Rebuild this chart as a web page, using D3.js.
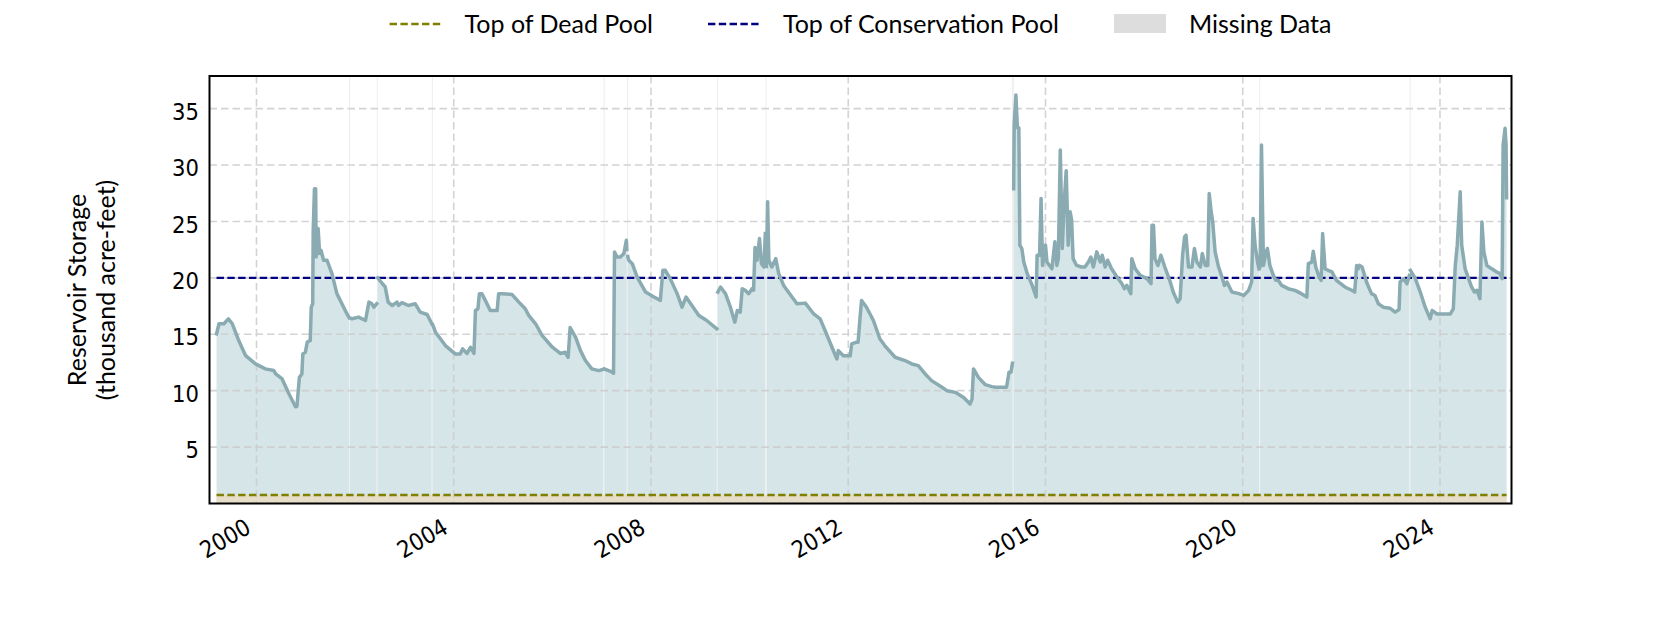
<!DOCTYPE html>
<html><head><meta charset="utf-8">
<script src="https://cdn.jsdelivr.net/npm/d3@7"></script>
<style>body{margin:0;background:#fff}svg{display:block}</style>
</head><body>
<svg id="chart" width="1680" height="630"></svg>
<script>
// ---------------- data ----------------
const years = [
1999.19,1999.24,1999.34,1999.43,1999.51,1999.64,1999.78,1999.98,2000.18,2000.35,2000.39,2000.52,2000.66,2000.79,2000.82,2000.87,2000.92,2000.94,2000.99,2001.03,2001.09,2001.11,2001.14,2001.15,2001.175,2001.20,2001.21,2001.25,2001.28,2001.31,2001.36,2001.43,2001.53,2001.63,2001.80,2001.875,
2001.885,
2001.895,2001.94,2002.07,2002.21,2002.28,2002.34,2002.38,2002.437,
2002.447,
2002.457,2002.55,2002.61,2002.67,2002.75,2002.85,2002.88,2002.95,2003.08,2003.22,2003.32,2003.46,2003.553,
2003.563,
2003.573,2003.63,2003.83,2004.03,2004.13,2004.18,2004.27,2004.34,2004.41,2004.44,2004.49,2004.52,2004.57,2004.64,2004.74,2004.88,2004.91,2004.98,2005.18,2005.32,2005.45,2005.52,2005.66,2005.79,2006.0,2006.16,2006.26,2006.32,2006.36,2006.47,2006.57,2006.67,2006.80,2006.94,2007.035,
2007.045,
2007.055,2007.18,2007.24,2007.26,2007.31,2007.38,2007.45,2007.50,2007.51,
2007.52,
2007.53,2007.55,2007.62,2007.72,2007.89,2008.06,2008.19,2008.24,2008.29,2008.39,2008.53,2008.63,2008.71,2008.83,2008.97,2009.13,2009.335,
2009.345,
2009.355,2009.41,2009.51,2009.61,2009.70,2009.75,2009.81,2009.85,2009.91,2009.98,2010.05,2010.08,2010.11,2010.15,2010.20,2010.24,2010.29,2010.318,
2010.33,
2010.342,2010.365,2010.39,2010.45,2010.53,2010.59,2010.69,2010.86,2010.96,2011.13,2011.30,2011.43,2011.53,2011.67,2011.77,2011.80,2011.90,2012.04,2012.07,2012.17,2012.20,2012.24,2012.27,2012.37,2012.51,2012.64,2012.74,2012.95,2013.15,2013.29,2013.42,2013.56,2013.69,2013.90,2014.0,2014.17,2014.34,2014.47,2014.51,2014.54,2014.64,2014.78,2014.91,2014.99,2015.21,2015.26,2015.30,2015.33,
2015.34,
2015.355,2015.365,2015.40,2015.43,2015.46,2015.48,2015.52,2015.56,2015.63,2015.73,2015.81,2015.83,2015.88,2015.91,2015.94,2016.0,2016.03,2016.13,2016.19,2016.23,2016.26,2016.30,2016.34,2016.38,2016.42,2016.46,2016.50,2016.53,2016.56,2016.63,2016.73,2016.80,2016.87,2016.92,2016.97,2017.04,2017.11,2017.15,2017.21,2017.26,2017.34,2017.45,2017.55,2017.60,2017.65,2017.73,2017.75,2017.82,2017.92,2018.06,2018.14,2018.16,2018.19,2018.22,2018.28,2018.34,2018.42,2018.53,2018.59,2018.68,2018.73,2018.78,2018.82,2018.85,2018.90,2018.97,2019.02,2019.07,2019.14,2019.18,2019.24,2019.29,2019.32,2019.36,2019.39,2019.44,2019.51,2019.59,2019.63,2019.68,2019.78,2019.92,2020.02,2020.12,2020.18,2020.21,2020.25,2020.30,2020.33,
2020.34,
2020.352,2020.38,2020.42,2020.46,2020.50,2020.55,2020.62,2020.67,2020.72,2020.79,2020.92,2021.06,2021.19,2021.30,2021.33,2021.40,2021.43,2021.48,2021.55,2021.59,2021.62,2021.67,2021.73,2021.81,2021.90,2022.07,2022.21,2022.27,2022.31,2022.34,2022.37,2022.42,2022.51,2022.61,2022.68,2022.75,2022.85,2022.99,2023.09,2023.17,2023.19,2023.26,2023.33,2023.38,
2023.39,
2023.40,2023.50,2023.60,2023.70,2023.80,2023.84,2023.94,2024.11,2024.21,2024.27,2024.31,2024.35,2024.41,2024.44,2024.51,2024.58,2024.64,2024.70,2024.75,2024.81,2024.85,2024.89,2024.95,2025.05,2025.15,2025.22,2025.26,2025.28,2025.32,2025.34,2025.35
];
const storage = [
15.04,15.93,15.93,16.37,15.93,14.44,13.1,12.37,11.93,11.78,11.48,11.04,9.7,8.58,8.6,11.18,11.48,13.26,13.4,14.3,14.44,17.4,17.7,24.2,27.9,27.9,21.85,24.37,22.15,22.44,21.56,21.56,20.37,18.6,17.1,16.5,
null,
16.45,16.37,16.52,16.22,17.85,17.7,17.4,17.7,
null,
20.0,19.5,19.2,17.85,17.55,17.85,17.55,17.8,17.55,17.7,16.96,16.75,15.95,
null,
15.85,15.18,14.0,13.26,13.26,13.7,13.3,13.85,13.3,17.1,17.25,18.6,18.6,18.0,17.1,17.1,18.6,18.6,18.53,17.85,17.26,16.67,15.93,14.9,13.85,13.3,13.4,12.96,15.6,14.74,13.55,12.67,11.93,11.78,11.9,
null,
11.93,11.72,11.55,22.3,21.85,21.85,22.15,23.33,22.5,
null,
21.9,21.56,21.26,20.07,18.74,18.3,18.0,20.67,20.67,19.93,18.6,17.4,18.3,17.55,16.67,16.22,15.48,
null,
18.74,19.19,18.6,17.4,16.07,17.1,16.96,19.04,18.9,18.6,19.04,18.9,22.7,21.56,23.48,21.26,20.96,23.93,
null,
21.0,26.74,21.56,20.96,21.7,20.37,19.33,18.3,17.7,17.76,16.8,16.37,15.33,13.85,12.81,13.55,13.1,13.1,14.15,14.3,14.3,16.52,18.0,17.4,16.22,14.6,14.0,12.96,12.67,12.37,12.22,11.48,10.89,10.3,10.0,9.85,9.4,8.82,9.26,11.93,11.18,10.53,10.36,10.3,10.3,11.63,11.63,12.44,
null,
27.9,33.55,36.2,33.3,33.3,22.9,22.6,21.4,20.37,19.33,18.3,22.0,22.0,27.04,21.1,22.9,21.4,20.8,23.2,21.1,21.7,31.33,22.6,26.7,29.5,22.9,25.85,25.1,21.7,21.1,20.96,20.96,21.4,21.85,20.96,22.3,21.4,22.0,20.96,21.56,20.8,20.07,19.48,19.04,19.33,18.6,21.7,20.8,20.22,19.93,19.48,24.67,24.67,21.7,21.1,22.0,20.96,19.63,18.74,17.85,18.15,22.0,23.63,23.78,20.96,20.96,22.6,21.4,20.96,22.15,21.1,21.1,27.48,25.85,25.0,22.3,20.96,19.93,19.33,19.63,18.74,18.6,18.44,18.89,19.63,25.26,22.9,21.4,20.8,
null,
21.0,31.78,21.1,22.0,22.6,21.1,20.22,19.78,19.78,19.33,19.04,18.89,18.6,18.3,21.26,21.4,22.35,20.96,20.07,19.78,23.93,20.8,20.67,20.52,19.78,19.19,18.9,18.74,21.1,20.8,21.1,20.96,19.63,18.6,18.44,17.7,17.4,17.3,16.96,17.2,19.63,19.93,19.48,20.22,
null,
20.67,19.93,18.74,17.4,16.37,17.1,16.8,16.8,16.8,17.26,21.1,22.9,27.63,22.9,20.8,19.93,19.19,18.74,18.9,18.15,24.96,22.3,21.1,20.8,20.52,20.37,19.93,31.78,33.26,31.78,27.1
];
const missingFrom = [2001.879,2002.441,2003.557,2007.039,2007.514,2009.339,2010.323,2015.322,2020.334,2023.384];
const missingTo   = [2001.891,2002.453,2003.569,2007.051,2007.526,2009.351,2010.337,2015.358,2020.346,2023.396];
const deadPool = 0.76;
const conservationPool = 20.0;
const yTicks = [5,10,15,20,25,30,35];
const xTicks = [2000,2004,2008,2012,2016,2020,2024];
const xTickLabels = ["2000","2004","2008","2012","2016","2020","2024"];
const legendLabels = ["Top of Dead Pool","Top of Conservation Pool","Missing Data"];
const yLabelLines = ["Reservoir Storage","(thousand acre-feet)"];

// ---------------- layout / style ----------------
const W = 1680, H = 630;
const P = {left:209.5, right:1511.5, top:76, bottom:503.5};
const C = {line:"#8aabb1", fill:"#d6e5e7", dead:"#808000", cons:"#000080", deadFill:"#e6dfc9",
           missing:"#dddddd", grid:"#cccccc"};
const TEXT_FONT = "Lato, 'Open Sans', sans-serif";
const TICK_FONT = "'Liberation Sans Narrow', 'DejaVu Sans Condensed', Lato, sans-serif";

const svg = d3.select("#chart");
svg.append("rect").attr("width",W).attr("height",H).attr("fill","#fff");

const x = d3.scaleLinear().domain([1999.047, 2025.45]).range([P.left, P.right]);
const y = d3.scaleLinear().domain([0, 37.89]).range([P.bottom, P.top]);

const data = years.map((t,i)=>({t, v: storage[i]}));
const valid = data.filter(d=>d.v!=null);
const t0 = valid[0].t, t1 = valid[valid.length-1].t;

const plot = svg.append("g");
plot.append("clipPath").attr("id","clip").append("rect")
  .attr("x",P.left).attr("y",P.top).attr("width",P.right-P.left).attr("height",P.bottom-P.top);
const g = plot.append("g").attr("clip-path","url(#clip)");

// missing data bands
g.selectAll("rect.miss").data(missingFrom.map((a,i)=>[a,missingTo[i]])).join("rect")
  .attr("class","miss")
  .attr("x",d=>x(d[0])).attr("width",d=>Math.max(1,x(d[1])-x(d[0])))
  .attr("y",P.top).attr("height",P.bottom-P.top)
  .attr("fill",C.missing).attr("opacity",0.5);

// storage area
const area = d3.area().defined(d=>d.v!=null).x(d=>x(d.t)).y0(y(0)).y1(d=>y(d.v));
g.append("path").datum(data).attr("d",area).attr("fill",C.fill);

// dead pool fill
g.append("path").datum([t0,t1])
  .attr("d", d3.area().x(d=>x(d)).y0(y(0)).y1(y(deadPool)))
  .attr("fill",C.deadFill);

// grid
const grid = g.append("g").attr("stroke",C.grid).attr("stroke-width",1.6)
  .attr("stroke-dasharray","7.5,4").attr("opacity",0.85);
grid.selectAll("line.h").data(yTicks).join("line").attr("class","h")
  .attr("x1",P.left).attr("x2",P.right).attr("y1",d=>y(d)).attr("y2",d=>y(d));
grid.selectAll("line.v").data(xTicks).join("line").attr("class","v")
  .attr("y1",P.top).attr("y2",P.bottom).attr("x1",d=>x(d)).attr("x2",d=>x(d));

// pool lines
[[deadPool,C.dead],[conservationPool,C.cons]].forEach(([v,c])=>{
  g.append("line").attr("x1",x(t0)).attr("x2",x(t1)).attr("y1",y(v)).attr("y2",y(v))
    .attr("stroke",c).attr("stroke-width",2.4).attr("stroke-dasharray","7.4,3.4");
});

// storage line
const line = d3.line().defined(d=>d.v!=null).x(d=>x(d.t)).y(d=>y(d.v));
g.append("path").datum(data).attr("d",line).attr("fill","none")
  .attr("stroke",C.line).attr("stroke-width",3.5)
  .attr("stroke-linejoin","round").attr("stroke-linecap","square");

// frame
svg.append("rect").attr("x",P.left).attr("y",P.top)
  .attr("width",P.right-P.left).attr("height",P.bottom-P.top)
  .attr("fill","none").attr("stroke","#000").attr("stroke-width",2);

// y ticks
const yAxis = d3.axisLeft(y).tickValues(yTicks).tickSize(0).tickPadding(0).tickFormat(d3.format("d"));
const ya = svg.append("g").attr("transform",`translate(${P.left-10.5},0)`).call(yAxis);
ya.select(".domain").remove();
ya.selectAll("text").attr("font-family",TICK_FONT).attr("font-size",23.5).attr("fill","#000")
  .attr("dy",null).attr("dominant-baseline","alphabetic")
  .attr("transform","translate(0,10.6)");

// x ticks
const xAxis = d3.axisBottom(x).tickValues(xTicks).tickSize(0).tickFormat((d,i)=>xTickLabels[i]);
const xa = svg.append("g").attr("transform",`translate(0,${P.bottom})`).call(xAxis);
xa.select(".domain").remove();
xa.selectAll("text").attr("font-family",TICK_FONT).attr("font-size",23.5).attr("fill","#000")
  .attr("y",0).attr("dy",null).attr("text-anchor","end")
  .attr("transform","translate(-4.5,28.5) rotate(-30)");

// y label
yLabelLines.forEach((s,i)=>{
  svg.append("text").attr("transform",`translate(${86+29*i},290) rotate(-90)`)
    .attr("text-anchor","middle").attr("font-family",TEXT_FONT).attr("font-size",25)
    .attr("fill","#000").text(s);
});

// legend
const lg = svg.append("g");
const handleW = 52, textGap = 23, colGap = 55, legY = 24, legBase = 33;
const items = legendLabels.map((s,i)=>{
  const t = lg.append("text").attr("font-family",TEXT_FONT).attr("font-size",25)
    .attr("fill","#000").attr("y",legBase).text(s);
  return {t, w: t.node().getComputedTextLength(), i};
});
const total = items.reduce((a,it)=>a+handleW+textGap+it.w,0) + colGap*(items.length-1);
let cx = (P.left+P.right)/2 - total/2;
items.forEach(it=>{
  if (it.i===0 || it.i===1){
    lg.append("line").attr("x1",cx).attr("x2",cx+handleW).attr("y1",legY).attr("y2",legY)
      .attr("stroke", it.i===0?C.dead:C.cons).attr("stroke-width",2.4).attr("stroke-dasharray","7.4,3.4");
  } else {
    lg.append("rect").attr("x",cx).attr("y",14).attr("width",handleW).attr("height",19)
      .attr("fill",C.missing);
  }
  it.t.attr("x",cx+handleW+textGap);
  cx += handleW+textGap+it.w+colGap;
});
</script>
</body></html>
